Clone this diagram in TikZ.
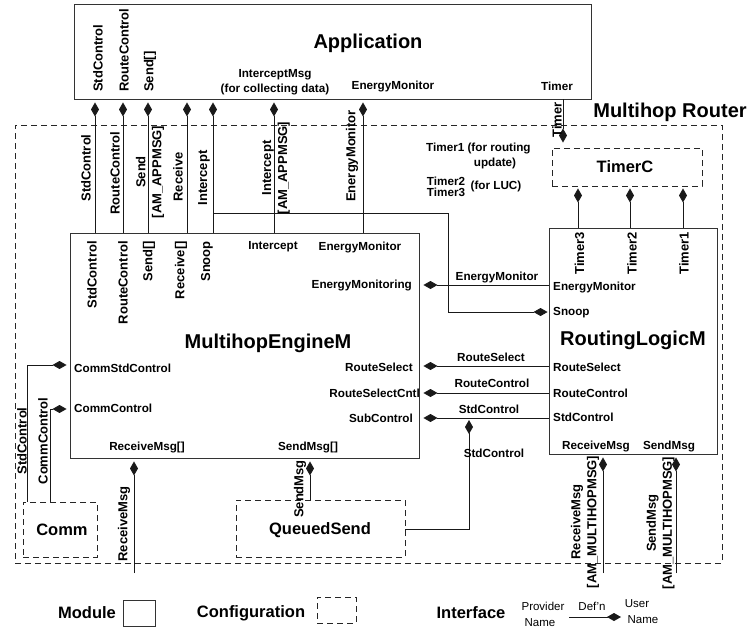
\documentclass[tikz,border=0pt]{standalone}
\usepackage{fontspec}
\setmainfont{Liberation Sans}
\usetikzlibrary{arrows.meta}
\begin{document}
\begin{tikzpicture}[x=1pt,y=-1pt]
\tikzset{
 box/.style={draw=black!80, line width=0.9pt, inner sep=0pt},
 cbox/.style={draw=black!85, line width=0.9pt, dash pattern=on 6pt off 4pt, inner sep=0pt},
 lbl/.style={font=\bfseries\fontsize{11.7}{14}\selectfont, inner sep=0pt},
 rl/.style={font=\bfseries\fontsize{13}{15}\selectfont, inner sep=0pt, rotate=90},
 rl2/.style={font=\bfseries\fontsize{13}{16}\selectfont, inner sep=0pt, rotate=90, align=center},
 big/.style={font=\bfseries\fontsize{20}{24}\selectfont, inner sep=0pt},
 mid/.style={font=\bfseries\fontsize{16.5}{20}\selectfont, inner sep=0pt},
 leg/.style={font=\fontsize{11.5}{14}\selectfont, inner sep=0pt},
 wire/.style={draw=black!90, line width=0.9pt},
 conn/.style={wire, -{Kite[length=14pt,width=8pt,inset=7pt]}, shorten >=3pt},
}
\useasboundingbox (0,0) rectangle (748,630);
% ---------- boxes
\node[cbox, minimum width=707pt, minimum height=438pt] (router) at (368.5,344) {};
\node[box, minimum width=517pt, minimum height=95pt] (app) at (332.5,51.5) {};
\node[box, minimum width=349pt, minimum height=225pt] (mem) at (244.5,345.5) {};
\node[box, minimum width=168pt, minimum height=226pt] (rlm) at (633,341) {};
\node[cbox, minimum width=150pt, minimum height=38pt] (timerc) at (627,167) {};
\node[cbox, minimum width=74pt, minimum height=55pt] (comm) at (60,529.5) {};
\node[cbox, minimum width=169pt, minimum height=57pt] (qs) at (320.5,528.5) {};
% ---------- titles
\node[big] (tApp) at (368,43) {Application};
\node[big] (tRouter) at (670,112) {Multihop Router};
\node[big] (tMem) at (268,343) {MultihopEngineM};
\node[big] (tRlm) at (633,340) {RoutingLogicM};
\node[mid] (tTimerC) at (625,167) {TimerC};
\node[mid] (tComm) at (62,530) {Comm};
\node[mid] (tQs) at (320,530) {QueuedSend};
% ---------- Application interface labels
\node[rl, anchor=west] (aStd) at (98,92) {StdControl};
\node[rl, anchor=west] (aRC) at (124,92) {RouteControl};
\node[rl, anchor=west] (aSend) at (150,92) {Send[]};
\node[lbl, align=center, font=\bfseries\fontsize{11.7}{15}\selectfont] (aIM) at (275,82) {InterceptMsg\\(for collecting data)};
\node[lbl] (aEM) at (393,86) {EnergyMonitor};
\node[lbl] (aTimer) at (557,86) {Timer};
% ---------- MultihopEngineM interface labels
\node[rl, anchor=east] (mStd) at (92,241) {StdControl};
\node[rl, anchor=east] (mRC) at (123,241) {RouteControl};
\node[rl, anchor=east] (mSend) at (149,241) {Send[]};
\node[rl, anchor=east] (mRecv) at (181,241) {Receive[]};
\node[rl, anchor=east] (mSnoop) at (207,241) {Snoop};
\node[lbl] (mInt) at (273,247) {Intercept};
\node[lbl] (mEM) at (360,247) {EnergyMonitor};
\node[lbl, anchor=east] (mEMg) at (412,285) {EnergyMonitoring};
\node[lbl, anchor=east] (mRS) at (413,367) {RouteSelect};
\node[lbl, anchor=east] (mRSC) at (420,393) {RouteSelectCntl};
\node[lbl, anchor=east] (mSub) at (413,418) {SubControl};
\node[lbl, anchor=west] (mCSC) at (74,368) {CommStdControl};
\node[lbl, anchor=west] (mCC) at (74,408) {CommControl};
\node[lbl] (mRM) at (147,447) {ReceiveMsg[]};
\node[lbl] (mSM) at (308,447) {SendMsg[]};
% ---------- RoutingLogicM interface labels
\node[rl, anchor=east] (rT3) at (579.5,232) {Timer3};
\node[rl, anchor=east] (rT2) at (632,232) {Timer2};
\node[rl, anchor=east] (rT1) at (684,232) {Timer1};
\node[lbl, anchor=west] (rEM) at (553,287) {EnergyMonitor};
\node[lbl, anchor=west] (rSnoop) at (553,313) {Snoop};
\node[lbl, anchor=west] (rRS) at (553,367) {RouteSelect};
\node[lbl, anchor=west] (rRC) at (553,393) {RouteControl};
\node[lbl, anchor=west] (rStd) at (553,417) {StdControl};
\node[lbl] (rRM) at (596,446) {ReceiveMsg};
\node[lbl] (rSM) at (669,446) {SendMsg};
% ---------- notes
\node[lbl, anchor=west] (n1) at (426,148) {Timer1 (for routing};
\node[lbl] (n2) at (495,163) {update)};
\node[lbl, align=center, font=\bfseries\fontsize{11.7}{11}\selectfont] (n3) at (446,186.5) {Timer2\\Timer3};
\node[lbl] (n4) at (496,186) {(for LUC)};
% ---------- vertical connectors MultihopEngineM -> Application
\coordinate (xStd) at (95,0);
\coordinate (xRC) at (123,0);
\coordinate (xSend) at (148,0);
\coordinate (xRecv) at (187,0);
\coordinate (xInt) at (213,0);
\coordinate (xIM) at (274,0);
\coordinate (xEM) at (363,0);
\draw[conn] (xStd |- mem.north) -- (xStd |- app.south);
\draw[conn] (xRC |- mem.north) -- (xRC |- app.south);
\draw[conn] (xSend |- mem.north) -- (xSend |- app.south);
\draw[conn] (xRecv |- mem.north) -- (xRecv |- app.south);
\draw[conn] (xInt |- mem.north) -- (xInt |- app.south);
\draw[conn] (xIM |- mem.north) -- (xIM |- app.south);
\draw[conn] (xEM |- mem.north) -- (xEM |- app.south);
\node[rl] (eStd) at (86,168) {StdControl};
\node[rl] (eRC) at (115,173) {RouteControl};
\node[rl2] (eSend) at (150,172) {Send\\{}[AM\_APPMSG]};
\node[rl] (eRecv) at (178,177) {Receive};
\node[rl] (eInt) at (204,178) {Intercept};
\node[rl2] (eIM) at (276,168) {Intercept\\{}[AM\_APPMSG]};
\node[rl] (eEM) at (352,156) {EnergyMonitor};
% Snoop branch
\coordinate (sn0) at (213,213);
\coordinate (sn1) at (448,213);
\coordinate (sn2) at (448,312);
\draw[conn, shorten >=1pt] (sn0) -- (sn1) -- (sn2) -- (sn2 -| rlm.west);
% ---------- Timer
\coordinate (xTimer) at (563,0);
\draw[conn, shorten >=5pt] (xTimer |- app.south) -- (xTimer |- timerc.north);
\node[rl] (eTimer) at (557,120) {Timer};
\coordinate (xT3) at (578,0);
\coordinate (xT2) at (630,0);
\coordinate (xT1) at (683,0);
\draw[conn, shorten >=2pt] (xT3 |- rlm.north) -- (xT3 |- timerc.south);
\draw[conn, shorten >=2pt] (xT2 |- rlm.north) -- (xT2 |- timerc.south);
\draw[conn, shorten >=2pt] (xT1 |- rlm.north) -- (xT1 |- timerc.south);
% ---------- RoutingLogicM -> MultihopEngineM
\coordinate (yEM) at (0,285);
\coordinate (yRS) at (0,366);
\coordinate (yRC) at (0,393);
\coordinate (ySC) at (0,418);
\draw[conn, shorten >=4pt] (yEM -| rlm.west) -- (yEM -| mem.east);
\draw[conn, shorten >=4pt] (yRS -| rlm.west) -- (yRS -| mem.east);
\draw[conn, shorten >=4pt] (yRC -| rlm.west) -- (yRC -| mem.east);
\draw[conn, shorten >=4pt] (ySC -| rlm.west) -- (ySC -| mem.east);
\node[lbl] (hEM) at (497,277) {EnergyMonitor};
\node[lbl] (hRS) at (491,357) {RouteSelect};
\node[lbl] (hRC) at (492,383) {RouteControl};
\node[lbl] (hSC) at (489,409) {StdControl};
% QueuedSend StdControl into the wire
\coordinate (qs1) at (469,529);
\coordinate (qsT) at (469,418);
\draw[conn, shorten >=2pt] (qs1 -| qs.east) -- (qs1) -- (qsT);
\node[lbl] (hQS) at (494,453) {StdControl};
% ---------- Comm -> MultihopEngineM
\coordinate (c1) at (27,365);
\coordinate (c2) at (50,409);
\draw[conn] (c1 |- comm.north) -- (c1) -- (c1 -| mem.west);
\draw[conn] (c2 |- comm.north) -- (c2) -- (c2 -| mem.west);
\node[rl] (eCS) at (22,441) {StdControl};
\node[rl] (eCC) at (43,441) {CommControl};
% ---------- bottom message connectors
\coordinate (rmEnd) at (134,573);
\draw[conn] (rmEnd) -- (rmEnd |- mem.south);
\node[rl] (eRM) at (124,524) {ReceiveMsg};
\coordinate (xSM) at (310,0);
\draw[conn] (xSM |- qs.north) -- (xSM |- mem.south);
\node[rl] (eSM) at (300,489) {SendMsg};
\coordinate (rrEnd) at (603,573);
\coordinate (rsEnd) at (676,573);
\draw[conn] (rrEnd) -- (rrEnd |- rlm.south);
\draw[conn] (rsEnd) -- (rsEnd |- rlm.south);
\node[rl2] (eRRM) at (585,522) {ReceiveMsg\\{}[AM\_MULTIHOPMSG]};
\node[rl2] (eRSM) at (660.5,523) {SendMsg\\{}[AM\_MULTIHOPMSG]};
% ---------- legend
\node[mid] (lgMod) at (87,613) {Module};
\node[box, minimum width=32pt, minimum height=26pt] (lgModBox) at (139,613) {};
\node[mid] (lgConf) at (251,613) {Configuration};
\node[cbox, minimum width=39pt, minimum height=26pt] (lgConfBox) at (336.5,610) {};
\node[mid] (lgIf) at (471,613) {Interface};
\node[leg] (lgProv) at (543,606) {Provider};
\node[leg] (lgPName) at (540,623) {Name};
\node[leg] (lgDef) at (592,606) {Def'n};
\coordinate (lgA) at (569,617);
\coordinate (lgB) at (621,617);
\draw[conn, shorten >=0pt] (lgA) -- (lgB);
\node[leg] (lgUser) at (637,604) {User};
\node[leg] (lgUName) at (643,620) {Name};
\end{tikzpicture}
\end{document}
